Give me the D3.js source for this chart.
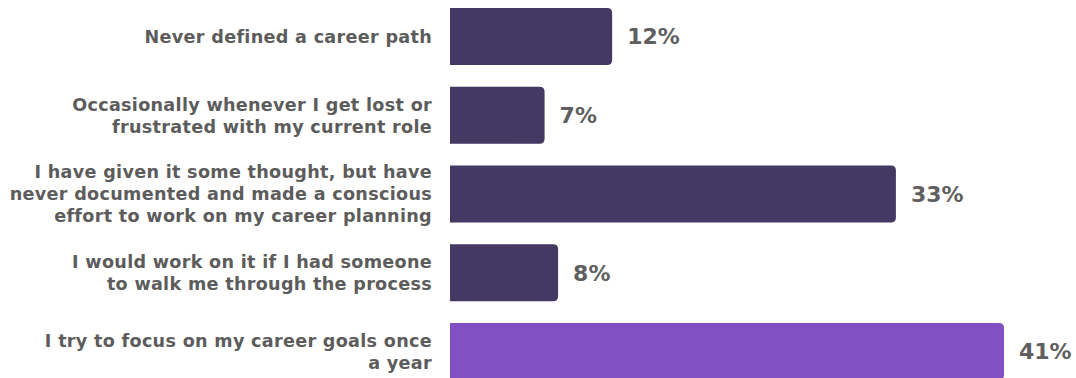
<!DOCTYPE html>
<html>
<head>
<meta charset="utf-8">
<script src="https://cdn.jsdelivr.net/npm/d3@7"></script>
<style>
  html, body { margin: 0; padding: 0; background: #fff; }
  svg { display: block; }
</style>
</head>
<body>
<svg id="chart" width="1076" height="378"></svg>
<script>
// Survey answers (each wrapped label line is its own string)
const categories = [
  ["Never defined a career path"],
  ["Occasionally whenever I get lost or", "frustrated with my current role"],
  ["I have given it some thought, but have", "never documented and made a conscious", "effort to work on my career planning"],
  ["I would work on it if I had someone", "to walk me through the process"],
  ["I try to focus on my career goals once", "a year"]
];
const values = [12, 7, 33, 8, 41];
const valueLabels = ["12%", "7%", "33%", "8%", "41%"];
const highlight = [false, false, false, false, true];

const svg = d3.select("#chart");
const ids = categories.map((c, i) => i);

const x = d3.scaleLinear().domain([0, d3.max(values)]).range([450, 1004]);
const y = d3.scaleBand().domain(ids).range([8, 380]).paddingInner(0.276).paddingOuter(0);

const r = 5;
function barPath(x0, x1, y0, h) {
  const rr = Math.min(r, (x1 - x0) / 2);
  return `M${x0},${y0}H${x1 - rr}Q${x1},${y0} ${x1},${y0 + rr}V${y0 + h - rr}Q${x1},${y0 + h} ${x1 - rr},${y0 + h}H${x0}Z`;
}

svg.selectAll("path.bar")
  .data(ids)
  .join("path")
  .attr("class", "bar")
  .attr("d", i => barPath(x(0), x(values[i]), y(i), y.bandwidth()))
  .attr("fill", i => highlight[i] ? "#8150c3" : "#433962");

svg.selectAll("text.value")
  .data(ids)
  .join("text")
  .attr("class", "value")
  .attr("x", i => x(values[i]) + 15)
  .attr("y", i => y(i) + y.bandwidth() / 2)
  .attr("dy", "0.36em")
  .attr("font-family", "'DejaVu Sans', sans-serif")
  .attr("font-weight", 700)
  .attr("font-size", 22)
  .attr("fill", "#5f5f5f")
  .text(i => valueLabels[i]);

const lineH = 22;
const labels = svg.selectAll("text.cat")
  .data(ids)
  .join("text")
  .attr("class", "cat")
  .attr("text-anchor", "end")
  .attr("font-family", "'DejaVu Sans', sans-serif")
  .attr("font-weight", 700)
  .attr("font-size", 17.6)
  .attr("letter-spacing", 0.3)
  .attr("fill", "#5c5c5c");

labels.each(function(i) {
  const lines = categories[i];
  const cy = y(i) + y.bandwidth() / 2;
  const first = cy - (lines.length - 1) * lineH / 2;
  d3.select(this).selectAll("tspan")
    .data(lines)
    .join("tspan")
    .attr("x", 432)
    .attr("y", (d, k) => first + k * lineH)
    .attr("dy", "0.36em")
    .text(d => d);
});
</script>
</body>
</html>
